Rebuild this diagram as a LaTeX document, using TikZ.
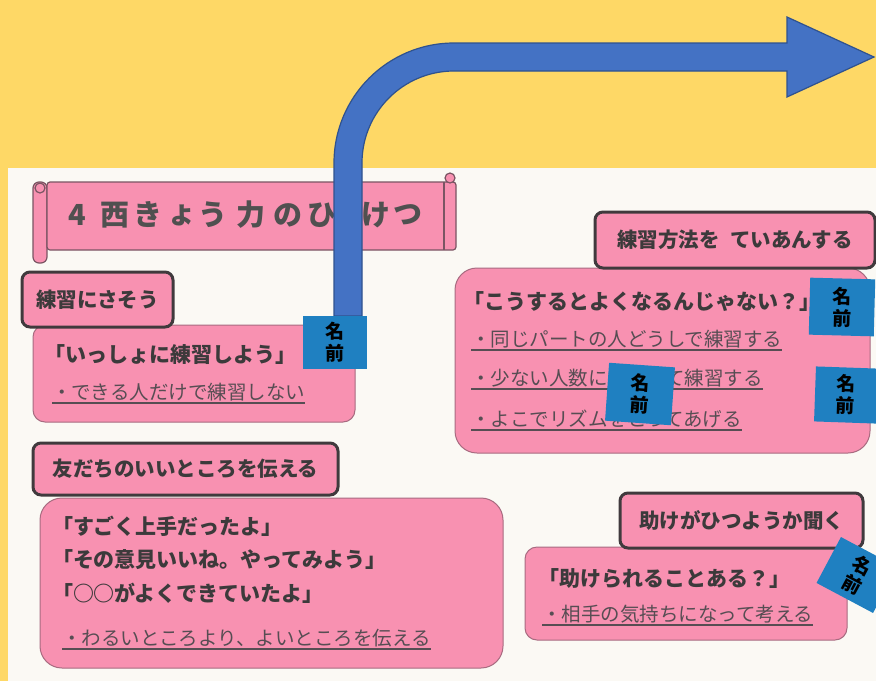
\documentclass[tikz,border=0pt]{standalone}
\usepackage{fontspec}
\newfontfamily\jp{Noto Sans CJK JP}
\usetikzlibrary{calc}
\definecolor{bgc}{HTML}{FED866}
\definecolor{panelc}{HTML}{FBF9F4}
\definecolor{pinkc}{HTML}{F891B1}
\definecolor{headc}{HTML}{403A3D}
\definecolor{boxc}{HTML}{A86B80}
\definecolor{scrollc}{HTML}{7A5563}
\definecolor{textc}{HTML}{3C3A3B}
\definecolor{titlec}{HTML}{505050}
\definecolor{textl}{HTML}{574D53}
\definecolor{tagc}{HTML}{1F80C1}
\definecolor{arrowc}{HTML}{4472C4}
\definecolor{arrowe}{HTML}{2F528F}
\begin{document}
\begin{tikzpicture}[x=1pt,y=-1pt,
  every node/.style={inner sep=0pt, outer sep=0pt},
  head/.style={draw=headc, line width=3pt, fill=pinkc, rounded corners=8pt,
    font=\jp\bfseries\fontsize{20.5}{24}\selectfont, text=textc},
  cbox/.style={draw=boxc, line width=1pt, fill=pinkc},
  quote/.style={anchor=west, font=\jp\bfseries\fontsize{21}{24}\selectfont, text=textc},
  item/.style={anchor=west, font=\jp\fontsize{19.5}{22}\selectfont, text=textl},
  uline/.style={draw=textl, line width=1.2pt},
  scroll/.style={draw=scrollc, line width=1.2pt, fill=pinkc},
  tchar/.style={font=\jp\bfseries\fontsize{29}{31}\selectfont, text=titlec},
  tag/.style={fill=tagc, minimum width=64pt, minimum height=53pt, align=center,
    font=\jp\bfseries\fontsize{19}{22}\selectfont, text=black},
]
\useasboundingbox (0,0) rectangle (876,681);
\fill[bgc] (0,0) rectangle (876,681);
\fill[panelc] (8,168) rectangle (876,681);

% title scroll
\draw[scroll, rounded corners=6pt] (33,182) rectangle (47,263);
\draw[scroll, rounded corners=3pt] (47,182) rectangle (456,250);
\draw[scrollc, line width=1.2pt] (444,182) -- (444,250);
\draw[scroll] (450,178) circle (5);
\draw[scroll] (40,188) circle (5);
\foreach \c/\x [count=\i] in {4/77,西/115,き/148,ょ/182,う/213,力/251,の/288,ひ/322,け/376,つ/408}
  \node[tchar] (t\i) at (\x,215) {\c};

% content boxes
\node[cbox, rounded corners=12pt, minimum width=322pt, minimum height=97pt] (b1) at (194,373.5) {};
\node[cbox, rounded corners=22pt, minimum width=415pt, minimum height=185pt] (b2) at (662.5,360.5) {};
\node[cbox, rounded corners=22pt, minimum width=463pt, minimum height=170pt] (b4) at (271.5,583) {};
\node[cbox, rounded corners=12pt, minimum width=322pt, minimum height=93pt] (b5) at (686,593.5) {};

% headers
\node[head, minimum width=151pt, minimum height=55pt] (h1) at (97.5,299.5) {練習にさそう};
\node[head, minimum width=280pt, minimum height=56pt] (h2) at (735,240) {練習方法を\hspace{0.5em}ていあんする};
\node[head, minimum width=305pt, minimum height=52pt] (h4) at (185.5,469) {友だちのいいところを伝える};
\node[head, minimum width=243pt, minimum height=55pt] (h5) at (741.5,520.5) {助けがひつようか聞く};

% box 1 text
\node[quote] (q1) at (45,355) {「いっしょに練習しよう」};
\node[item] (i1) at (52,392) {・できる人だけで練習しない};
% box 2 text
\node[quote] (q2) at (463,302) {「こうするとよくなるんじゃない？」};
\node[item] (i2a) at (471,339) {・同じパートの人どうしで練習する};
\node[item] (i2b) at (471,378) {・少ない人数にわかれて練習する};
\node[item] (i2c) at (471,419) {・よこでリズムをとってあげる};
% box 4 text
\node[quote] (q4a) at (52,526) {「すごく上手だったよ」};
\node[quote] (q4b) at (52,560) {「その意見いいね。やってみよう」};
\node[quote] (q4c) at (52,593) {「○○がよくできていたよ」};
\node[item] (i4) at (62,638) {・わるいところより、よいところを伝える};
% box 5 text
\node[quote] (q5) at (538,579) {「助けられることある？」};
\node[item] (i5) at (542,614) {・相手の気持ちになって考える};

\foreach \n in {i1,i2a,i2b,i2c,i4,i5}
  \draw[uline] ($(\n.west)+(0,11)$) -- ($(\n.east)+(0,11)$);

% arrow
\draw[fill=arrowc, draw=arrowe, line width=1.2pt]
  (334,316) -- (334,163) arc[start angle=180, end angle=270, radius=120]
  -- (787,43) -- (787,17) -- (874,57) -- (787,97) -- (787,71) -- (454,71)
  arc[start angle=270, end angle=180, radius=92] -- (362,316) -- cycle;

% name tags
\node[tag] (tA) at (335,342) {名\\前};
\node[tag, minimum width=65pt, minimum height=57pt, rotate=-1.5] (tB) at (842,307) {名\\前};
\node[tag, minimum width=66pt, minimum height=58pt, rotate=-4] (tC) at (640,394) {名\\前};
\node[tag, minimum width=62pt, minimum height=55pt, rotate=-2] (tD) at (846,395) {名\\前};
\node[tag, minimum width=64pt, minimum height=52pt, rotate=-28] (tE) at (857,575) {名\\前};
\end{tikzpicture}
\end{document}
